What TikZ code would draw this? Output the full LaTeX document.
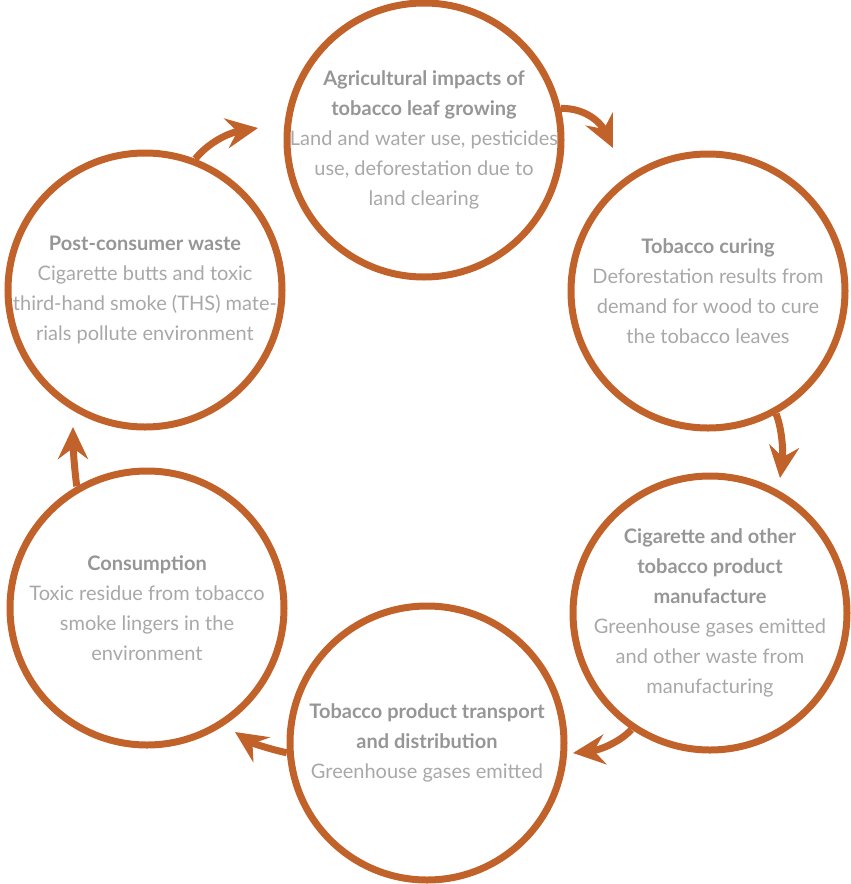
\documentclass[tikz,border=0pt]{standalone}
\usepackage{fontspec}
\setmainfont{Lato}
\usetikzlibrary{arrows.meta,positioning}
\definecolor{ring}{RGB}{193,98,42}
\definecolor{headgray}{RGB}{150,150,150}
\definecolor{bodygray}{RGB}{168,168,168}
\tikzset{
  stage/.style={circle, draw=ring, line width=7pt, minimum size=274pt, inner sep=0pt},
  stagetext/.style={align=center, text=bodygray, font=\fontsize{20}{30}\selectfont},
  cycle/.style={-{Stealth[length=32pt,width=30pt,inset=11pt]}, line width=7pt, draw=ring},
}
\newcommand{\headline}[1]{{\color{headgray}\bfseries #1}}

\begin{document}
\begin{tikzpicture}[x=1pt,y=-1pt]
  \useasboundingbox (0,0) rectangle (851,884);
  % the six stages of the cycle
  \node[stage] (grow) at (424,140) {};
  \node[stage] (cure) at (708,291) {};
  \node[stage] (make) at (710,613) {};
  \node[stage] (ship) at (427,743) {};
  \node[stage] (use)  at (147,608) {};
  \node[stage] (waste) at (145,290) {};
  \node[stagetext] at (grow)
    {\headline{Agricultural impacts of}\\ \headline{tobacco leaf growing}\\
     Land and water use, pesticides\\ use, deforestation due to\\ land clearing};
  \node[stagetext] at (cure)
    {\headline{Tobacco curing}\\ Deforestation results from\\ demand for wood to cure\\ the tobacco leaves};
  \node[stagetext] at (make)
    {\headline{Cigarette and other}\\ \headline{tobacco product}\\ \headline{manufacture}\\
     Greenhouse gases emitted\\ and other waste from\\ manufacturing};
  \node[stagetext] at (ship)
    {\headline{Tobacco product transport}\\ \headline{and distribution}\\ Greenhouse gases emitted};
  \node[stagetext] at (use)
    {\headline{Consumption}\\ Toxic residue from tobacco\\ smoke lingers in the\\ environment};
  \node[stagetext] at (waste)
    {\headline{Post-consumer waste}\\ Cigarette butts and toxic\\ third-hand smoke (THS) mate-\\ rials pollute environment};
  % arrow tips in the gaps
  \coordinate (t1) at (258,128);
  \coordinate (t2) at (613,148);
  \coordinate (t3) at (780,478);
  \coordinate (t4) at (573,753);
  \coordinate (t5) at (235,732);
  \coordinate (t6) at (73,427);
  \draw[cycle] (waste.69) .. controls (208,143) and (228,133) .. (t1);
  \draw[cycle] (grow.13)  .. controls (588,108) and (602,125) .. (t2);
  \draw[cycle] (cure.-61) .. controls (783,432) and (783,455) .. (t3);
  \draw[cycle] (make.-124) .. controls (620,742) and (600,750) .. (t4);
  \draw[cycle] (ship.184) .. controls (265,748) and (250,742) .. (t5);
  \draw[cycle] (use.120)  .. controls (74,465) and (73,445) .. (t6);
\end{tikzpicture}
\end{document}
